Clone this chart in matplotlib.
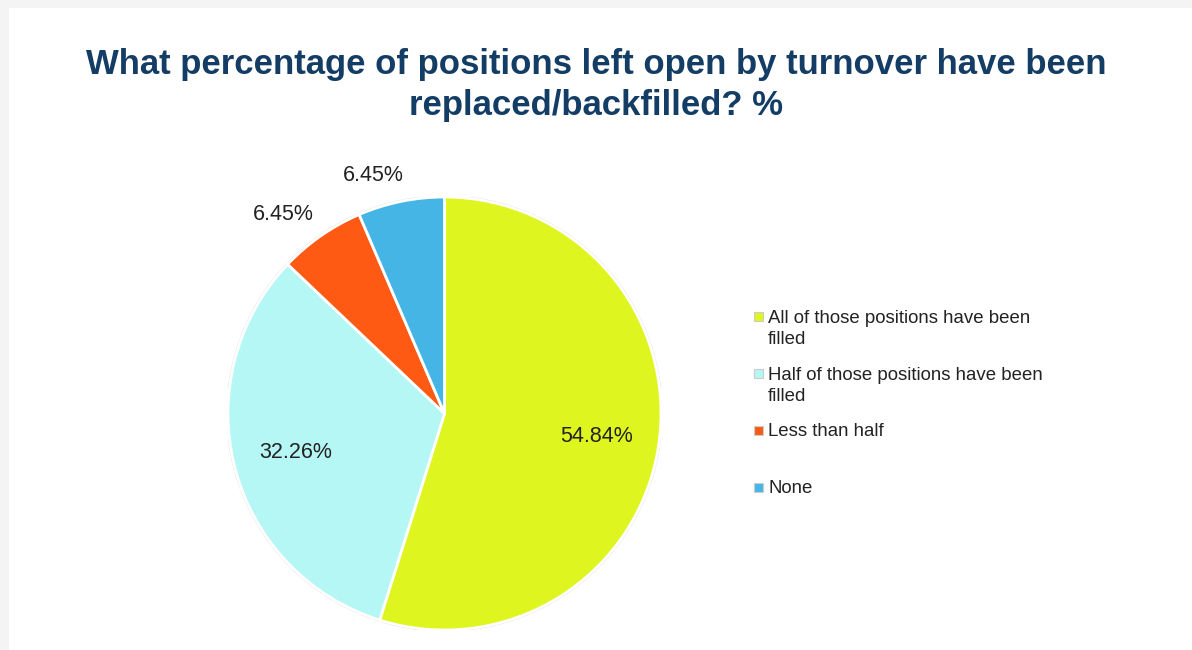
import numpy as np
import matplotlib.pyplot as plt
from matplotlib.patches import Rectangle, Circle

# data
labels = ["All of those positions have been\nfilled",
          "Half of those positions have been\nfilled",
          "Less than half",
          "None"]
values = [54.84, 32.26, 6.45, 6.45]
colors = ["#DEF51F", "#B5F7F4", "#FF5A14", "#44B5E4"]
title = "What percentage of positions left open by turnover have been\nreplaced/backfilled? %"

fig = plt.figure(figsize=(11.92, 6.5), dpi=100)
fig.patch.set_facecolor("#F4F4F4")
# white card
fig.patches.append(Rectangle((9/1192, 0), 1, 642/650, transform=fig.transFigure,
                             facecolor="white", edgecolor="none", zorder=-5))

fig.text(0.5, 0.869, title, ha="center", va="center", fontsize=25,
         fontweight="bold", color="#143D66", family="Liberation Sans",
         linespacing=1.32)

# pie axes placed to match the reference box
cx, cy, r = 444.5, 413.5, 216.5
ax = fig.add_axes([(cx - r)/1192, (650 - cy - r)/650, 2*r/1192, 2*r/650])
ax.patch.set_visible(False)
wedges, texts, autotexts = ax.pie(values, colors=colors, startangle=90,
                                  counterclock=False, autopct="%.2f%%",
                                  pctdistance=0.71,
                                  wedgeprops=dict(edgecolor="white", linewidth=2),
                                  textprops=dict(fontsize=15.5, color="#222222",
                                                 family="Liberation Sans"))
ax.add_patch(Circle((0, 0), 1.005, facecolor="none", edgecolor="#DDDDDD",
                    linewidth=0.8, zorder=0))
ax.set_xlim(-1, 1)
ax.set_ylim(-1, 1)

# small slices get their labels outside
for w, t, v in zip(wedges, autotexts, values):
    if v < 10:
        ang = np.deg2rad((w.theta1 + w.theta2) / 2)
        t.set_position((1.13*np.cos(ang) - 0.1, 1.12*np.sin(ang)))
        t.set_ha("center")

# legend, drawn by hand so each entry gets the same slot
lx, ly, step = 758/1192, 317/650, 56.7/650
for i, (lab, col) in enumerate(zip(labels, colors)):
    y = 1 - ly - i*step
    fig.patches.append(Rectangle((lx - 4.5/1192, y - 4.5/650), 9/1192, 9/650,
                                 transform=fig.transFigure, facecolor=col,
                                 edgecolor="#CCCCCC", linewidth=0.8))
    fig.text(lx + 10/1192, y + 7/650, lab, ha="left", va="top", fontsize=13.4,
             color="#222222", family="Liberation Sans", linespacing=1.3)

fig.savefig("out.png", dpi=100, facecolor=fig.get_facecolor())
